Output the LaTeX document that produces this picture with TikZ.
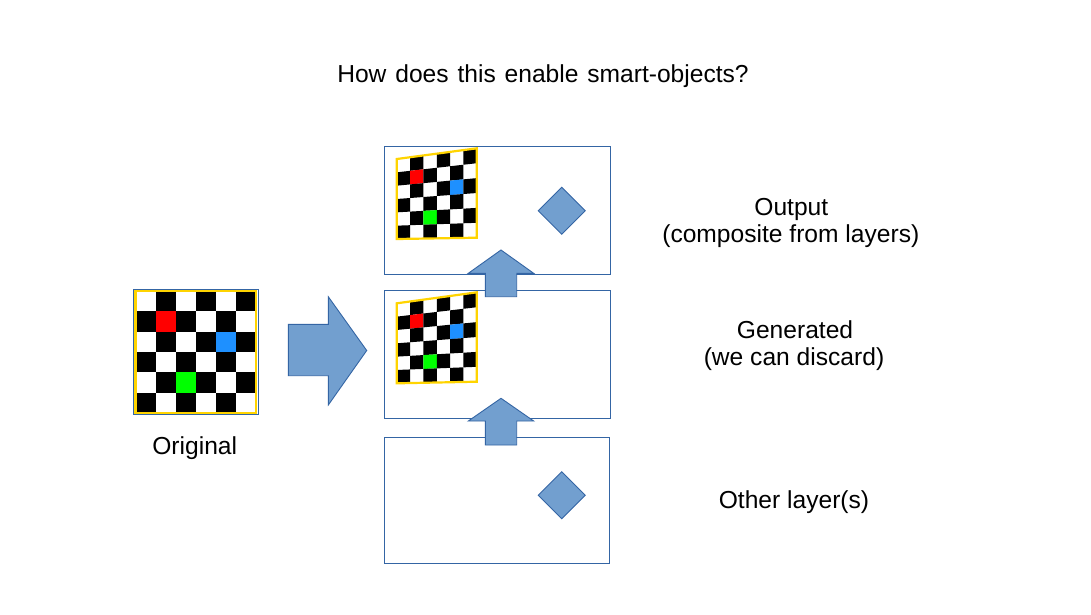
\documentclass[tikz,border=0pt]{standalone}
\usepackage{fontspec}
\setmainfont{Liberation Sans}
\definecolor{cred}{HTML}{FF0000}
\definecolor{cblue}{HTML}{1E90FF}
\definecolor{cgreen}{HTML}{00FF00}
\definecolor{cyell}{HTML}{FFD400}
\definecolor{lineblue}{HTML}{3465A4}
\definecolor{fillblue}{HTML}{729FCF}
\def\whitename{white}
\newcommand\chkboard[7]{%
  \foreach \i in {0,...,6}{\foreach \j in {0,...,6}{%
    \pgfmathsetmacro\gx{#2+(#3-#2)*\i/6}%
    \pgfmathsetmacro\gt{#4+(#5-#4)*\i/6}%
    \pgfmathsetmacro\gb{#6+(#7-#6)*\i/6}%
    \pgfmathsetmacro\gy{\gt+(\gb-\gt)*\j/6}%
    \coordinate (#1-\i-\j) at (\gx,\gy);
  }}
  \fill[white] (#1-0-0) -- (#1-6-0) -- (#1-6-6) -- (#1-0-6) -- cycle;
  \foreach \r in {0,...,5}{\foreach \c in {0,...,5}{%
    \pgfmathtruncatemacro\pp{mod(\r+\c,2)}%
    \pgfmathtruncatemacro\rn{\r+1}%
    \pgfmathtruncatemacro\cn{\c+1}%
    \def\cc{white}%
    \ifnum\pp=1 \def\cc{black}\fi
    \ifnum\r=1 \ifnum\c=1 \def\cc{cred}\fi\fi
    \ifnum\r=2 \ifnum\c=4 \def\cc{cblue}\fi\fi
    \ifnum\r=4 \ifnum\c=2 \def\cc{cgreen}\fi\fi
    \ifx\cc\whitename\else
      \fill[\cc] (#1-\c-\r) -- (#1-\cn-\r) -- (#1-\cn-\rn) -- (#1-\c-\rn) -- cycle;
    \fi
  }}
  \draw[yellowframe] (#1-0-0) -- (#1-6-0) -- (#1-6-6) -- (#1-0-6) -- cycle;
}
\begin{document}
\begin{tikzpicture}[x=1pt,y=-1pt,
  layerbox/.style={draw=lineblue, line width=1pt, inner sep=0pt, outer sep=0pt},
  shapefill/.style={fill=fillblue, draw=lineblue, line width=0.9pt, line join=miter},
  yellowframe/.style={draw=cyell, line width=2.2pt, line join=miter},
  lbl/.style={font=\fontsize{24.6}{27}\selectfont, anchor=base, inner sep=0pt}]
\useasboundingbox[fill=white] (0,0) rectangle (1091,614);

% title
\node[lbl] (title) at (543,82) {\spaceskip=0.36em\relax How does this enable smart-objects?};

% original
\node[draw=lineblue, line width=1pt, inner sep=0pt, minimum width=125pt, minimum height=125.5pt] (origframe) at (195.8,352) {};
\chkboard{og}{135.5}{255.8}{291.2}{291.2}{412.8}{412.8}
\node[lbl] (origlbl) at (194.7,454.3) {Original};

% big arrow right
\coordinate (ra) at (288.3,324.3);
\draw[shapefill] (ra) -- (328.3,324.3) -- (328.3,296.7) -- (366.7,350.5) -- (328.3,405) -- (328.3,375.7) -- (288.3,375.7) -- cycle;

% layer boxes
\node[layerbox, minimum width=226.5pt, minimum height=128pt] (outbox) at (497.25,210) {};
\node[layerbox, minimum width=226.5pt, minimum height=128pt] (genbox) at (497.25,354) {};
\node[layerbox, minimum width=225.5pt, minimum height=126pt] (othbox) at (496.75,500) {};

% warped boards
\chkboard{wa}{396.8}{476.8}{159}{148.3}{239}{237.7}
\chkboard{wb}{396.8}{476.8}{303.3}{292.3}{383.3}{381.7}

% diamonds
\coordinate (d1) at (561.7,210.7);
\coordinate (d2) at (561.7,495.3);
\draw[shapefill] (d1) +(0,-23.5) -- +(23.5,0) -- +(0,23.5) -- +(-23.5,0) -- cycle;
\draw[shapefill] (d2) +(0,-23.5) -- +(23.5,0) -- +(0,23.5) -- +(-23.5,0) -- cycle;

% up arrows
\coordinate (ua) at (501,250);
\draw[shapefill] (ua) -- (533.7,273.3) -- (516.7,273.3) -- (516.7,296.7) -- (485.3,296.7) -- (485.3,273.3) -- (468.3,273.3) -- cycle;
\coordinate (ub) at (501,398.3);
\draw[shapefill] (ub) -- (533.7,421) -- (516.7,421) -- (516.7,445) -- (485.3,445) -- (485.3,421) -- (468.3,421) -- cycle;

% labels
\node[lbl] (out1) at (791.3,215) {Output};
\node[lbl] (out2) at (790.8,242) {(composite from layers)};
\node[lbl] (gen1) at (795,338.3) {Generated};
\node[lbl] (gen2) at (794,365.3) {(we can discard)};
\node[lbl] (oth) at (794,508) {Other layer(s)};
\end{tikzpicture}
\end{document}
